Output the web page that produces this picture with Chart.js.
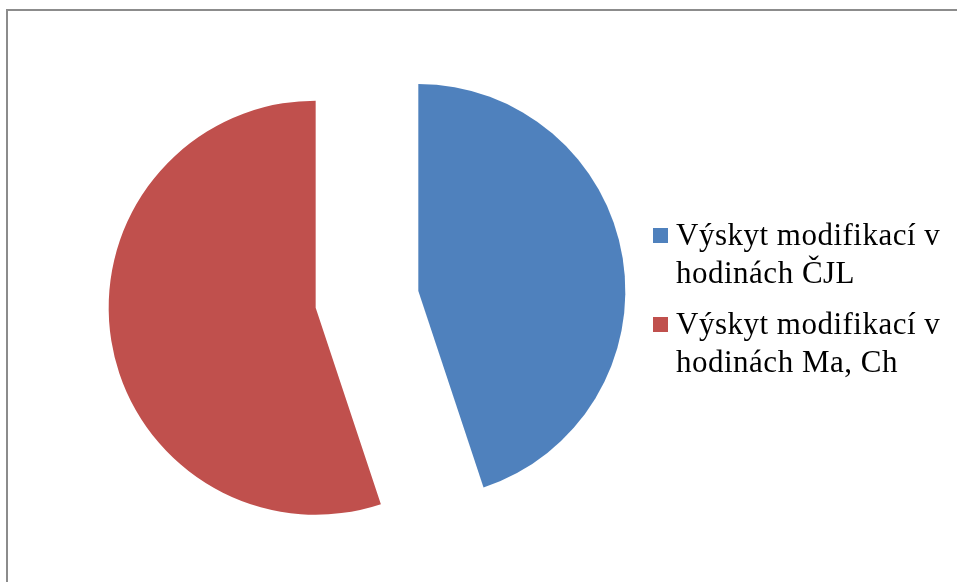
<!DOCTYPE html>
<html>
<head>
<meta charset="utf-8">
<title>Výskyt modifikací</title>
<script src="https://cdn.jsdelivr.net/npm/chart.js@4.4.1/dist/chart.umd.min.js"></script>
<style>
  html, body { margin: 0; padding: 0; background: #fff; overflow: hidden; }
  #wrap { position: relative; width: 957px; height: 582px; overflow: hidden; }
  #frame {
    position: absolute; left: 6px; top: 9px; width: 1000px; height: 700px;
    border-top: 2px solid #8c8c8c; border-left: 2px solid #8c8c8c;
  }
  #wrap canvas { position: absolute; left: 0; top: 0; }
  .item {
    position: absolute; left: 653px;
    font-family: "Liberation Serif", serif; font-size: 31px; letter-spacing: 0.5px;
    line-height: 38.5px; color: #000; white-space: nowrap;
  }
  .item .box { position: absolute; left: 0; top: 12.5px; width: 15px; height: 15px; }
  .item .txt { margin-left: 23px; }
</style>
</head>
<body>
<div id="wrap"><div id="frame"></div></div>

<script>
// ── Data ──────────────────────────────────────────────────────
const labels = [
  ["Výskyt modifikací v", "hodinách ČJL"],
  ["Výskyt modifikací v", "hodinách Ma, Ch"],
];
const values = [44.9, 55.1];
const colors = ["#4f81bd", "#c0504d"];

// ── Layout (exploded pie) ─────────────────────────────────────
const W = 957, H = 582;
const PIE = { x: 367, y: 299.4, r: 207, explode: 52 };

const wrap = document.getElementById("wrap");
const total = values.reduce((a, b) => a + b, 0);

// one layer per slice, each moved out along its own bisector
let acc = 0;
values.forEach((v, i) => {
  const mid = ((acc + v / 2) / total) * 2 * Math.PI;
  acc += v;
  const cx = PIE.x + Math.sin(mid) * PIE.explode;
  const cy = PIE.y - Math.cos(mid) * PIE.explode;

  const canvas = document.createElement("canvas");
  canvas.width = W; canvas.height = H;
  wrap.appendChild(canvas);

  new Chart(canvas, {
    type: "pie",
    data: {
      labels,
      datasets: [{
        data: values,
        backgroundColor: colors.map((c, j) => (j === i ? c : "rgba(0,0,0,0)")),
        borderWidth: 0,
        hoverOffset: 0,
      }],
    },
    options: {
      responsive: false,
      animation: false,
      events: [],
      layout: {
        padding: {
          left: cx - PIE.r, right: W - cx - PIE.r,
          top: cy - PIE.r, bottom: H - cy - PIE.r,
        },
      },
      plugins: { legend: { display: false }, tooltip: { enabled: false } },
    },
  });
});

// ── Legend ────────────────────────────────────────────────────
labels.forEach((lines, i) => {
  const el = document.createElement("div");
  el.className = "item";
  el.style.top = (215.5 + i * 89) + "px";
  el.innerHTML = `<span class="box" style="background:${colors[i]}"></span>` +
    `<div class="txt">${lines.join("<br>")}</div>`;
  wrap.appendChild(el);
});
</script>
</body>
</html>
